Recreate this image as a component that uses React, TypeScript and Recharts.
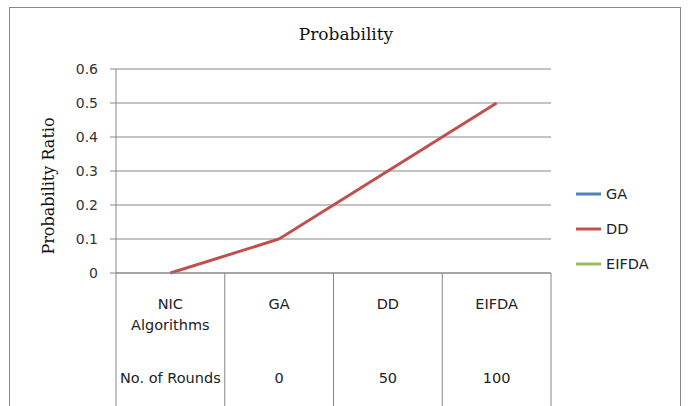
import { LineChart, Line, XAxis, YAxis, CartesianGrid, Legend } from "recharts";

const algorithms = ["NIC\nAlgorithms", "GA", "DD", "EIFDA"];
const rounds = ["No. of Rounds", "0", "50", "100"];
const gaValues: (number | null)[] = [null, null, null, null];
const ddValues: (number | null)[] = [0, 0.1, 0.3, 0.5];
const eifdaValues: (number | null)[] = [null, null, null, null];
const yTicks = [0, 0.1, 0.2, 0.3, 0.4, 0.5, 0.6];

const series = [
  { key: "GA", color: "#4F81BD" },
  { key: "DD", color: "#C0504D" },
  { key: "EIFDA", color: "#9BBB59" },
];

const data = algorithms.map((name, i) => ({
  name,
  rounds: rounds[i],
  GA: gaValues[i],
  DD: ddValues[i],
  EIFDA: eifdaValues[i],
}));

const gray = "#878787";
const sans = "'DejaVu Sans', sans-serif";
const serif = "'DejaVu Serif', serif";

// x axis drawn as the little data table under the plot
const TableTick = (props: any) => {
  const { x, y, payload, index } = props;
  const half = payload.offset || 54;
  const lines = String(payload.value).split("\n");
  return (
    <g>
      <line x1={x - half} y1={y} x2={x - half} y2={y + 140} stroke={gray} />
      {index === algorithms.length - 1 && (
        <line x1={x + half} y1={y} x2={x + half} y2={y + 140} stroke={gray} />
      )}
      {lines.map((t, i) => (
        <text key={i} x={x} y={y + 36 + i * 21} textAnchor="middle" fontSize={14.5} fontFamily={sans} fill="#222">
          {t}
        </text>
      ))}
      <text x={x} y={y + 110} textAnchor="middle" fontSize={14.5} fontFamily={sans} fill="#222">
        {rounds[index]}
      </text>
    </g>
  );
};

const LegendBox = () => (
  <div style={{ fontFamily: sans, fontSize: 14.5, color: "#222" }}>
    {series.map((s) => (
      <div key={s.key} style={{ display: "flex", alignItems: "center", height: 35 }}>
        <svg width={25} height={6} style={{ marginRight: 5 }}>
          <line x1={0} y1={3} x2={25} y2={3} stroke={s.color} strokeWidth={3} />
        </svg>
        <span>{s.key}</span>
      </div>
    ))}
  </div>
);

const App = () => {
  return (
    <div style={{ position: "absolute", left: 0, top: 0, width: 689, height: 406, background: "#fff", overflow: "hidden" }}>
      <div
        style={{
          position: "absolute", left: 9, top: 7, width: 672, height: 420,
          border: `1px solid ${gray}`, boxSizing: "border-box",
        }}
      />
      <div
        style={{
          position: "absolute", left: 0, top: 24, width: 692, textAlign: "center",
          fontFamily: serif, fontSize: 17, lineHeight: "20px", color: "#111",
        }}
      >
        Probability
      </div>
      <LineChart width={689} height={406} data={data} margin={{ top: 69, right: 138, bottom: 0, left: 40 }}>
        <CartesianGrid vertical={false} stroke={gray} />
        <XAxis
          dataKey="name"
          scale="band"
          interval={0}
          height={133}
          tickSize={0}
          tickMargin={0}
          tickLine={false}
          axisLine={{ stroke: gray }}
          tick={<TableTick />}
        />
        <YAxis
          width={76}
          domain={[0, 0.6]}
          ticks={yTicks}
          tickSize={6}
          tickMargin={12}
          tickLine={{ stroke: gray }}
          axisLine={{ stroke: gray }}
          tick={{ fontSize: 14, fontFamily: sans, fill: "#333" }}
          label={{
            content: (p: any) => {
              const vb = p.viewBox || { x: 40, y: 69, height: 204 };
              const cx = vb.x + 14;
              const cy = vb.y + vb.height / 2 + 15;
              return (
                <text x={cx} y={cy} transform={`rotate(-90, ${cx}, ${cy})`} textAnchor="middle" fontSize={16} fontFamily={serif} fill="#111">
                  Probability Ratio
                </text>
              );
            },
          }}
        />
        <Legend
          layout="vertical"
          align="center"
          verticalAlign="middle"
          wrapperStyle={{ left: 576, top: 176, width: 110 }}
          content={<LegendBox />}
        />
        {series.map((s) => (
          <Line
            key={s.key}
            type="linear"
            dataKey={s.key}
            stroke={s.color}
            strokeWidth={3}
            dot={false}
            activeDot={false}
            isAnimationActive={false}
          />
        ))}
      </LineChart>
    </div>
  );
};

export default App;
